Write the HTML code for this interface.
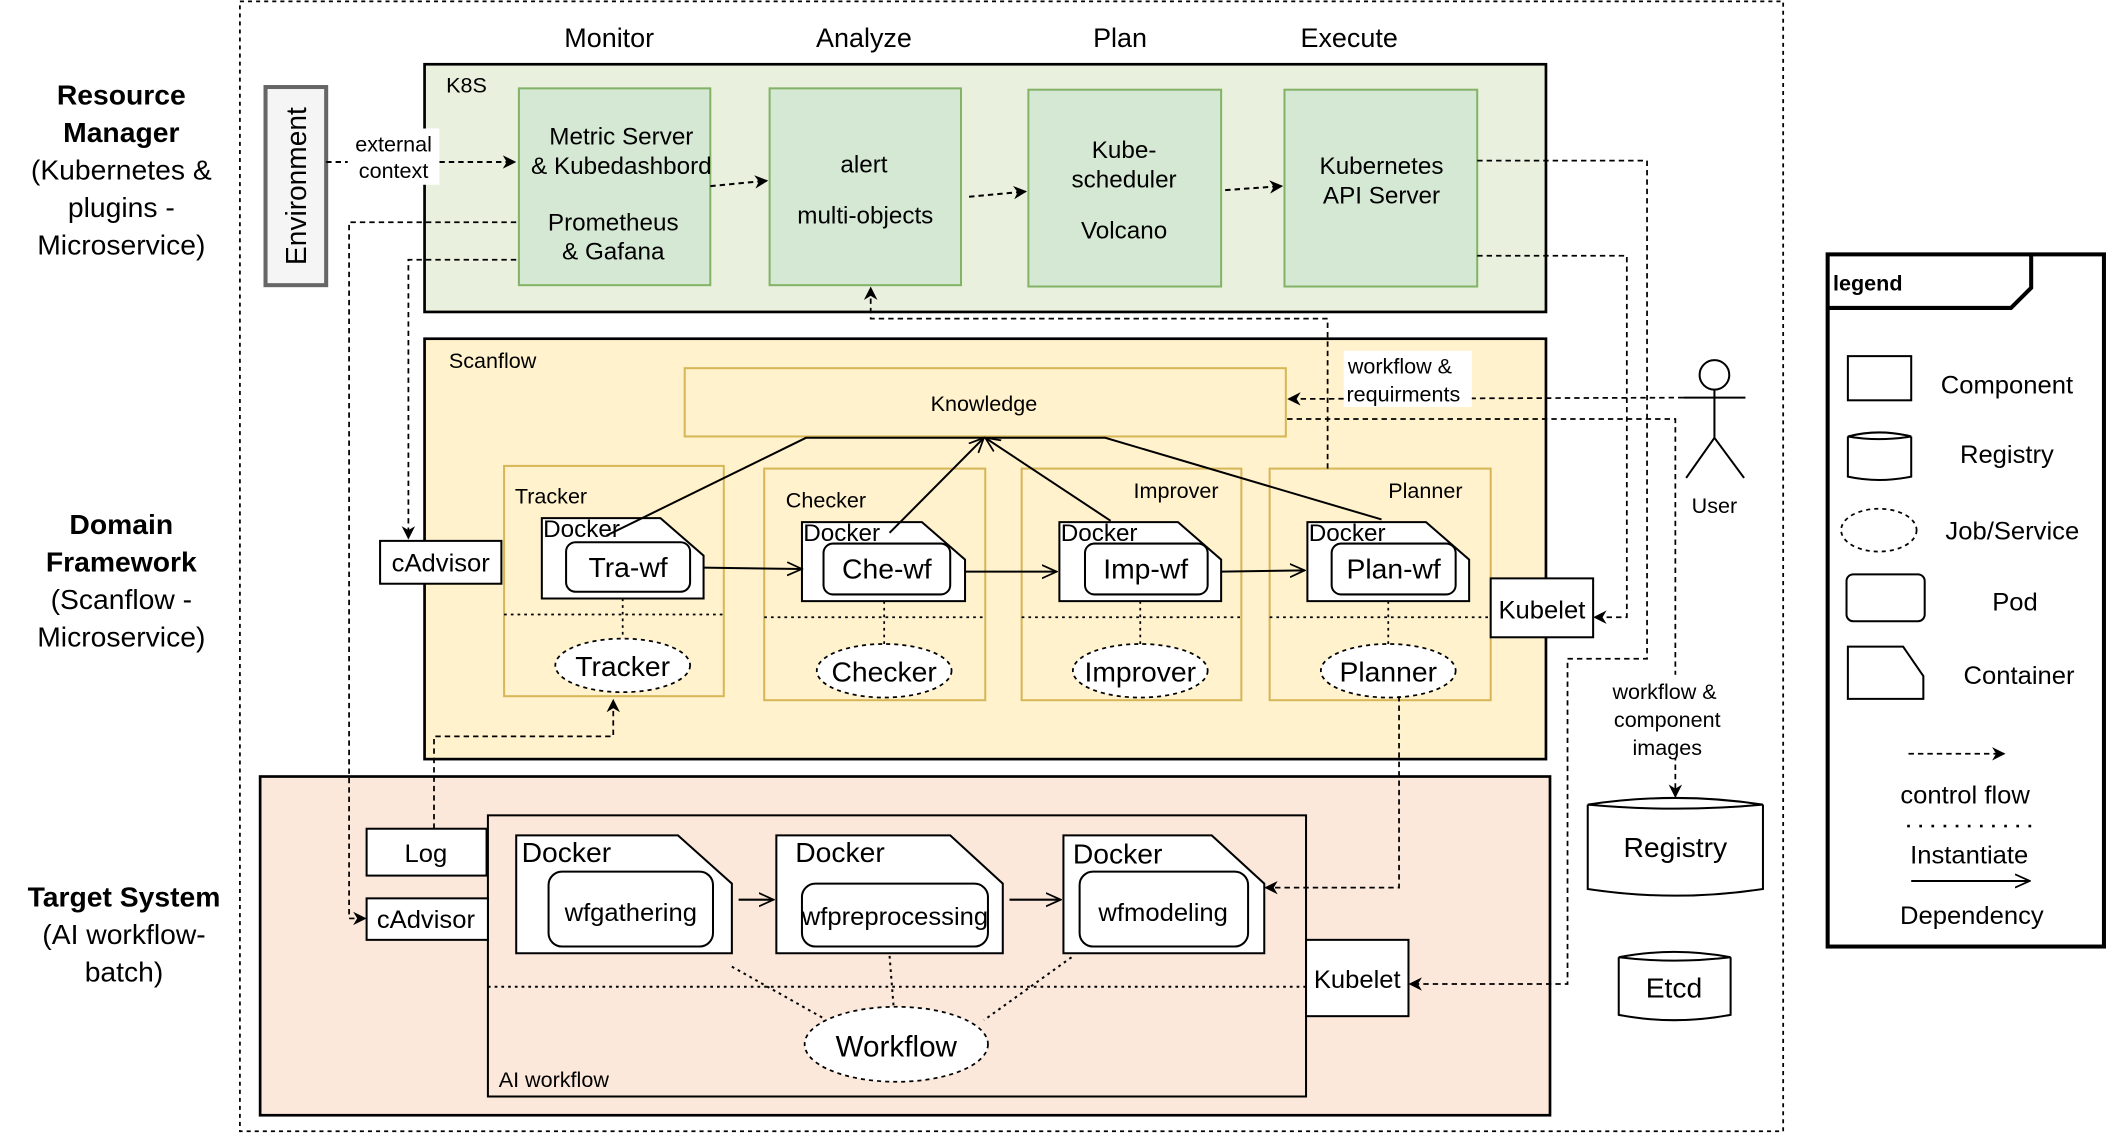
<!DOCTYPE html>
<html><head><meta charset="utf-8"><style>
html,body{margin:0;padding:0;background:#fff;}
svg{display:block;}
text{font-family:"Liberation Sans",sans-serif;fill:#000;}
</style></head><body>
<svg width="2108" height="1138" viewBox="0 0 1564 850" preserveAspectRatio="none" xmlns="http://www.w3.org/2000/svg">
<defs>
<marker id="a" markerWidth="10" markerHeight="10" refX="9" refY="5" orient="auto" markerUnits="userSpaceOnUse"><path d="M0,0 L10,5 L0,10 L3,5 Z" fill="#000"/></marker>
<marker id="o" markerWidth="12" markerHeight="12" refX="11" refY="6" orient="auto" markerUnits="userSpaceOnUse"><path d="M0,1 L11,6 L0,11" fill="none" stroke="#000" stroke-width="1.3"/></marker>
</defs>
<rect x="178" y="1" width="1145" height="844" fill="none" stroke="#000" stroke-width="1.3" stroke-dasharray="3,3"/>

<g font-size="21" text-anchor="middle">
<text x="90" y="78" font-weight="bold">Resource</text>
<text x="90" y="106" font-weight="bold">Manager</text>
<text x="90" y="134">(Kubernetes &amp;</text>
<text x="90" y="162">plugins -</text>
<text x="90" y="190">Microservice)</text>
<text x="90" y="399" font-weight="bold">Domain</text>
<text x="90" y="427" font-weight="bold">Framework</text>
<text x="90" y="455">(Scanflow -</text>
<text x="90" y="483">Microservice)</text>
<text x="92" y="677" font-weight="bold">Target System</text>
<text x="92" y="705">(AI workflow-</text>
<text x="92" y="733">batch)</text>
<text x="452" y="35" font-size="20">Monitor</text>
<text x="641" y="35" font-size="20">Analyze</text>
<text x="831" y="35" font-size="20">Plan</text>
<text x="1001" y="35" font-size="20">Execute</text>
</g>

<!-- K8S -->
<rect x="315" y="48" width="832" height="185" fill="#e9f0dd" stroke="#000" stroke-width="2"/>
<text x="331" y="69" font-size="16">K8S</text>
<g fill="#d5e8d4" stroke="#82b366" stroke-width="1.5">
<rect x="385" y="66" width="142" height="147"/>
<rect x="571" y="66" width="142" height="147"/>
<rect x="763" y="67" width="143" height="147"/>
<rect x="953" y="67" width="143" height="147"/>
</g>
<g font-size="18" text-anchor="middle">
<text x="461" y="108">Metric Server</text>
<text x="461" y="130">&amp; Kubedashbord</text>
<text x="455" y="172">Prometheus</text>
<text x="455" y="194">&amp; Gafana</text>
<text x="641" y="129">alert</text>
<text x="642" y="167">multi-objects</text>
<text x="834" y="118">Kube-</text>
<text x="834" y="140">scheduler</text>
<text x="834" y="178">Volcano</text>
<text x="1025" y="130">Kubernetes</text>
<text x="1025" y="152">API Server</text>
</g>
<rect x="197" y="65" width="45" height="148" fill="#f5f5f5" stroke="#666" stroke-width="3"/>
<text transform="translate(227,139) rotate(-90)" font-size="21" text-anchor="middle">Environment</text>

<g fill="none" stroke="#000" stroke-width="1.5" stroke-dasharray="4,3">
<path d="M242,121 L382,121" marker-end="url(#a)"/>
<path d="M527,139 L569,135" marker-end="url(#a)"/>
<path d="M719,147 L761,143" marker-end="url(#a)"/>
<path d="M909,142 L951,139" marker-end="url(#a)"/>
</g>
<rect x="258" y="96" width="68" height="42" fill="#fff"/>
<text x="292" y="113" font-size="16" text-anchor="middle">external</text>
<text x="292" y="133" font-size="16" text-anchor="middle">context</text>

<!-- Scanflow -->
<rect x="315" y="253" width="832" height="314" fill="#fff2cc" stroke="#000" stroke-width="2"/>
<text x="333" y="275" font-size="16">Scanflow</text>
<rect x="508" y="275" width="446" height="51" fill="#fff2cc" stroke="#d6b656" stroke-width="1.5"/>
<text x="730" y="307" font-size="16" text-anchor="middle">Knowledge</text>
<g fill="#fff2cc" stroke="#d6b656" stroke-width="1.5">
<rect x="374" y="348" width="163" height="172"/>
<rect x="567" y="350" width="164" height="173"/>
<rect x="758" y="350" width="163" height="173"/>
<rect x="942" y="350" width="164" height="173"/>
</g>
<g font-size="16">
<text x="382" y="376">Tracker</text>
<text x="583" y="379">Checker</text>
<text x="841" y="372">Improver</text>
<text x="1030" y="372">Planner</text>
</g>
<g stroke="#000" stroke-width="1.3" stroke-dasharray="2,3" fill="none">
<path d="M374,459 L537,459 M567,461 L731,461 M758,461 L921,461 M942,461 L1106,461"/>
<path d="M462,447 L462,477 M656,449 L656,481 M846,449 L846,481 M1030,449 L1030,481"/>
</g>
<g fill="#fff" stroke="#000" stroke-width="1.5">
<path d="M402,387 L490,387 L522,415 L522,447 L402,447 Z"/>
<path d="M595,390 L684,390 L716,418 L716,449 L595,449 Z"/>
<path d="M786,390 L874,390 L906,418 L906,449 L786,449 Z"/>
<path d="M970,390 L1058,390 L1090,418 L1090,449 L970,449 Z"/>
<rect x="420" y="405" width="92" height="37" rx="7"/>
<rect x="611" y="406" width="94" height="38" rx="7"/>
<rect x="805" y="406" width="91" height="38" rx="7"/>
<rect x="988" y="406" width="92" height="38" rx="7"/>
</g>
<g font-size="18">
<text x="403" y="401">Docker</text>
<text x="596" y="404">Docker</text>
<text x="787" y="404">Docker</text>
<text x="971" y="404">Docker</text>
</g>
<g font-size="21" text-anchor="middle">
<text x="466" y="431">Tra-wf</text>
<text x="658" y="432">Che-wf</text>
<text x="850" y="432">Imp-wf</text>
<text x="1034" y="432">Plan-wf</text>
</g>
<g fill="#fff" stroke="#000" stroke-width="1.3" stroke-dasharray="3,3">
<ellipse cx="462" cy="497" rx="50" ry="20"/>
<ellipse cx="656" cy="501" rx="50" ry="20"/>
<ellipse cx="846" cy="501" rx="50" ry="20"/>
<ellipse cx="1030" cy="501" rx="50" ry="20"/>
</g>
<g font-size="21" text-anchor="middle">
<text x="462" y="505">Tracker</text>
<text x="656" y="509">Checker</text>
<text x="846" y="509">Improver</text>
<text x="1030" y="509">Planner</text>
</g>
<g fill="none" stroke="#000" stroke-width="1.5">
<path d="M522,424 L595,425" marker-end="url(#o)"/>
<path d="M716,427 L784,427" marker-end="url(#o)"/>
<path d="M906,427 L968,426" marker-end="url(#o)"/>
<path d="M450,400 L598,327 L820,327 L1025,388"/>
<path d="M660,398 L730,327" marker-end="url(#o)"/>
<path d="M824,389 L731,327" marker-end="url(#o)"/>
</g>
<rect x="282" y="404" width="90" height="32" fill="#fff" stroke="#000" stroke-width="1.5"/>
<text x="327" y="427" font-size="19" text-anchor="middle">cAdvisor</text>
<rect x="1106" y="432" width="76" height="44" fill="#fff" stroke="#000" stroke-width="1.5"/>
<text x="1144" y="462" font-size="19" text-anchor="middle">Kubelet</text>

<!-- User -->
<g fill="none" stroke="#000" stroke-width="1.5">
<circle cx="1272" cy="280" r="11"/>
<path d="M1272,291 L1272,327 M1249,297 L1295,297 M1272,327 L1251,357 M1272,327 L1294,357"/>
</g>
<text x="1272" y="383" font-size="16" text-anchor="middle">User</text>

<!-- Target -->
<rect x="193" y="580" width="957" height="253" fill="#fbe8da" stroke="#000" stroke-width="2"/>
<rect x="362" y="609" width="607" height="210" fill="#fbe8da" stroke="#000" stroke-width="1.5"/>
<text x="370" y="812" font-size="16">AI workflow</text>
<rect x="272" y="619" width="89" height="35" fill="#fff" stroke="#000" stroke-width="1.5"/>
<text x="316" y="644" font-size="19" text-anchor="middle">Log</text>
<rect x="272" y="671" width="90" height="31" fill="#fff" stroke="#000" stroke-width="1.5"/>
<text x="316" y="693" font-size="19" text-anchor="middle">cAdvisor</text>
<rect x="969" y="702" width="76" height="57" fill="#fff" stroke="#000" stroke-width="1.5"/>
<text x="1007" y="738" font-size="19" text-anchor="middle">Kubelet</text>
<g fill="#fff" stroke="#000" stroke-width="1.5">
<path d="M383,624 L503,624 L543,660 L543,712 L383,712 Z"/>
<path d="M576,624 L705,624 L744,660 L744,712 L576,712 Z"/>
<path d="M789,624 L899,624 L938,660 L938,712 L789,712 Z"/>
<rect x="407" y="651" width="122" height="56" rx="10"/>
<rect x="595" y="660" width="138" height="47" rx="10"/>
<rect x="801" y="651" width="125" height="56" rx="10"/>
</g>
<g font-size="21">
<text x="387" y="644">Docker</text>
<text x="590" y="644">Docker</text>
<text x="796" y="645">Docker</text>
</g>
<g font-size="19" text-anchor="middle">
<text x="468" y="688">wfgathering</text>
<text x="664" y="691">wfpreprocessing</text>
<text x="863" y="688">wfmodeling</text>
</g>
<g fill="none" stroke="#000" stroke-width="1.5">
<path d="M548,672 L574,672" marker-end="url(#o)"/>
<path d="M749,672 L787,672" marker-end="url(#o)"/>
</g>
<g stroke="#000" stroke-width="1.5" stroke-dasharray="2,3" fill="none">
<path d="M362,737 L969,737"/>
<path d="M543,722 L610,760 M660,714 L663,752 M795,715 L730,762"/>
</g>
<ellipse cx="665" cy="780" rx="68" ry="28" fill="#fff" stroke="#000" stroke-width="1.3" stroke-dasharray="3,3"/>
<text x="665" y="789" font-size="22" text-anchor="middle">Workflow</text>

<!-- Registry/Etcd -->
<g fill="#fff" stroke="#000" stroke-width="1.5">
<path d="M1178,601 L1178,664 Q1243,674 1308,664 L1308,601"/>
<path d="M1178,601 Q1243,591 1308,601 Q1243,607 1178,601 Z"/>
<path d="M1201,715 L1201,758 Q1242,766 1284,758 L1284,715"/>
<path d="M1201,715 Q1242,707 1284,715 Q1242,720 1201,715 Z"/>
</g>
<text x="1243" y="640" font-size="21" text-anchor="middle">Registry</text>
<text x="1242" y="745" font-size="21" text-anchor="middle">Etcd</text>

<!-- dashed control flows -->
<g fill="none" stroke="#000" stroke-width="1.3" stroke-dasharray="4,3">
<path d="M1249,297 L956,298" marker-end="url(#a)"/>
<path d="M955,313 L1243,313 L1243,595" marker-end="url(#a)"/>
<path d="M985,350 L985,238 L646,238 L646,215" marker-end="url(#a)"/>
<path d="M1096,120 L1222,120 L1222,492 L1163,492 L1163,735 L1046,735" marker-end="url(#a)"/>
<path d="M1096,191 L1207,191 L1207,461 L1183,461" marker-end="url(#a)"/>
<path d="M383,166 L259,166 L259,686 L271,686" marker-end="url(#a)"/>
<path d="M383,194 L303,194 L303,402" marker-end="url(#a)"/>
<path d="M322,619 L322,550 L455,550 L455,523" marker-end="url(#a)"/>
<path d="M1038,520 L1038,663 L939,663" marker-end="url(#a)"/>
</g>
<rect x="997" y="262" width="95" height="42" fill="#fff"/>
<text x="1000" y="279" font-size="16">workflow &amp;</text>
<text x="999" y="300" font-size="16">requirments</text>
<rect x="1188" y="504" width="100" height="62" fill="#fff"/>
<g font-size="16" text-anchor="middle">
<text x="1235" y="522">workflow &amp;</text>
<text x="1237" y="543">component</text>
<text x="1237" y="564">images</text>
</g>

<!-- Legend -->
<rect x="1356" y="190" width="205" height="517" fill="#fff" stroke="#000" stroke-width="3"/>
<path d="M1356,230 L1492,230 L1507,215 L1507,190" fill="none" stroke="#000" stroke-width="3"/>
<text x="1360" y="217" font-size="16" font-weight="bold">legend</text>
<g fill="#fff" stroke="#000" stroke-width="1.5">
<rect x="1371" y="266" width="47" height="33"/>
<path d="M1371,326 L1371,356 Q1394,361 1418,356 L1418,326"/>
<path d="M1371,326 Q1394,320 1418,326 Q1394,330 1371,326 Z"/>
<rect x="1370" y="429" width="58" height="35" rx="5"/>
<path d="M1371,483 L1412,483 L1427,505 L1427,522 L1371,522 Z"/>
</g>
<ellipse cx="1394" cy="396" rx="28" ry="16" fill="#fff" stroke="#000" stroke-width="1.3" stroke-dasharray="3,3"/>
<g font-size="19" text-anchor="middle">
<text x="1489" y="294">Component</text>
<text x="1489" y="346">Registry</text>
<text x="1493" y="403">Job/Service</text>
<text x="1495" y="456">Pod</text>
<text x="1498" y="511">Container</text>
<text x="1458" y="600">control flow</text>
<text x="1461" y="645">Instantiate</text>
<text x="1463" y="690">Dependency</text>
</g>
<path d="M1416,563 L1487,563" fill="none" stroke="#000" stroke-width="1.3" stroke-dasharray="4,3" marker-end="url(#a)"/>
<path d="M1415,617 L1512,617" fill="none" stroke="#000" stroke-width="2" stroke-dasharray="2,7"/>
<path d="M1418,658 L1506,658" fill="none" stroke="#000" stroke-width="1.5" marker-end="url(#o)"/>
</svg>
</body></html>
